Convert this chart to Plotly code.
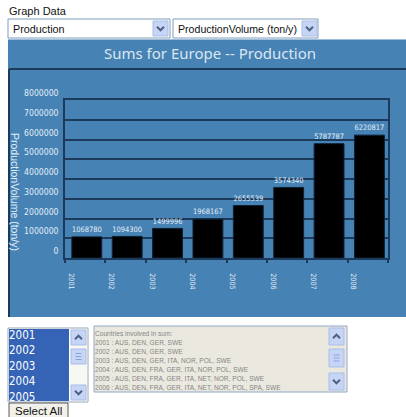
import plotly.graph_objects as go

W, H = 406, 417

# ---------------- data ----------------
years = ["2001", "2002", "2003", "2004", "2005", "2006", "2007", "2008"]
production = [1068780, 1094300, 1499996, 1968167, 2655539, 3574340, 5787787, 6220817]
y_tick_values = [0, 1000000, 2000000, 3000000, 4000000, 5000000, 6000000, 7000000, 8000000]
selected_years = ["2001", "2002", "2003", "2004", "2005"]
country_lines = [
    "Countries involved in sum:",
    "2001 : AUS, DEN, GER, SWE",
    "2002 : AUS, DEN, GER, SWE",
    "2003 : AUS, DEN, GER, ITA, NOR, POL, SWE",
    "2004 : AUS, DEN, FRA, GER, ITA, NOR, POL, SWE",
    "2005 : AUS, DEN, FRA, GER, ITA, NET, NOR, POL, SWE",
    "2006 : AUS, DEN, FRA, GER, ITA, NET, NOR, POL, SPA, SWE",
]
chart_title = "Sums for Europe -- Production"
y_title = "ProductionVolume (ton/y)"
dropdown_texts = ["Production", "ProductionVolume (ton/y)"]

# ---------------- styles ----------------
COND = "DejaVu Sans Condensed, Liberation Sans, sans-serif"
SANS = "Liberation Sans, Arial, sans-serif"
BLUE = "#4682b4"
DARK = "#1b3a5c"
LIGHT_TXT = "#e3edf6"


def px(x):
    return x / W


def py(y):
    return 1 - y / H


def rect(x0, y0, x1, y1, fill, line=None, lw=1, layer="above"):
    return dict(type="rect", xref="paper", yref="paper", x0=px(x0), x1=px(x1), y0=py(y1), y1=py(y0),
                fillcolor=fill, line=dict(color=line or fill, width=lw if line else 0), layer=layer)


def seg(x0, y0, x1, y1, color, lw=1, layer="above"):
    return dict(type="line", xref="paper", yref="paper", x0=px(x0), x1=px(x1), y0=py(y0), y1=py(y1),
                line=dict(color=color, width=lw), layer=layer)


def chevron(cx, cy, up, color="#4d6185"):
    d = -1 if up else 1
    pts = [(cx - 3.5, cy - 1.8 * d), (cx, cy + 1.8 * d), (cx + 3.5, cy - 1.8 * d)]
    path = "M " + " L ".join(f"{px(a)},{py(b)}" for a, b in pts)
    return dict(type="path", xref="paper", yref="paper", path=path, line=dict(color=color, width=2))


def button(x0, y0, x1, y1, kind):
    out = [rect(x0, y0, x1, y1, "#c6d5f6", "#a9bde6", 1)]
    cx, cy = (x0 + x1) / 2, (y0 + y1) / 2
    if kind == "up":
        out.append(chevron(cx, cy, True))
    elif kind == "down":
        out.append(chevron(cx, cy, False))
    else:
        for k in (-3, 0, 3):
            out.append(seg(cx - 3, cy + k, cx + 3, cy + k, "#8aa2d4", 1))
    return out


shapes = []
# main blue panel
shapes.append(rect(8, 39, 406, 317, BLUE, layer="below"))
shapes.append(seg(8, 39.5, 406, 39.5, "#9dbddb", 1))
shapes.append(seg(9, 69, 406, 69, DARK, 2))
shapes.append(seg(9, 69, 9, 317, DARK, 2))

# dropdowns
for (x0, x1, bx0) in [(8, 170, 153), (173, 318, 302)]:
    shapes.append(rect(x0, 19, x1, 38, "white", "#7f9db9", 1))
    shapes += button(bx0, 21, bx0 + 15, 36, "down")

# listbox
shapes.append(rect(8, 328, 88, 402, "white", "#9aa6b4", 1, layer="below"))
shapes.append(rect(9, 329, 69, 401, "#3563b5", layer="below"))
shapes.append(rect(70, 329, 87, 401, "#f7f7f3"))
shapes += button(71, 330, 86, 345, "up")
shapes += button(71, 349, 86, 364, "thumb")
shapes += button(71, 385, 86, 400, "down")

# select all button
shapes.append(rect(9, 403, 68, 418, "#f1f0ea", "#5a5a5a", 1))

# countries textbox
shapes.append(rect(94, 326, 347, 392, "#ebe9df", "#8fa8c8", 1, layer="below"))
shapes += button(329, 328, 344, 345, "up")
shapes += button(329, 349, 344, 367, "thumb")
shapes += button(329, 373, 344, 390, "down")

annotations = [
    dict(text="Graph Data", x=px(7), y=py(11), xanchor="left", yanchor="middle",
         font=dict(family=SANS, size=11, color="#111111")),
    dict(text=dropdown_texts[0], x=px(11), y=py(29), xanchor="left", yanchor="middle",
         font=dict(family=SANS, size=10.8, color="#111111")),
    dict(text=dropdown_texts[1], x=px(176), y=py(29), xanchor="left", yanchor="middle",
         font=dict(family=SANS, size=10.6, color="#111111")),
    dict(text=chart_title, x=px(210), y=py(53), xanchor="center", yanchor="middle",
         font=dict(family="Noto Sans, DejaVu Sans, sans-serif", size=15, color="#dbe7f2")),
    dict(text=y_title, x=px(15), y=py(192), xanchor="center", yanchor="middle", textangle=90,
         font=dict(family=SANS, size=10.5, color=LIGHT_TXT)),
    dict(text="Select All", x=px(38.5), y=py(410.5), xanchor="center", yanchor="middle",
         font=dict(family=SANS, size=11.5, color="#111111")),
]
for a in annotations:
    a.update(xref="paper", yref="paper", showarrow=False)

fig = go.Figure()
fig.add_trace(go.Bar(
    x=years, y=production,
    marker=dict(color="black", line=dict(color="#0f2236", width=1)),
    width=0.74, offset=-0.33,
    text=[str(v) for v in production], textposition="outside",
    textfont=dict(family=COND, size=8.6, color=LIGHT_TXT),
    cliponaxis=False, hoverinfo="skip", xaxis="x", yaxis="y",
))
fig.add_trace(go.Scatter(
    x=[0] * len(country_lines), y=list(range(len(country_lines))), mode="text",
    text=country_lines, textposition="middle right",
    textfont=dict(family=SANS, size=6.6, color="#858585"),
    cliponaxis=True, hoverinfo="skip", xaxis="x2", yaxis="y2",
))
fig.add_trace(go.Scatter(
    x=[0] * len(selected_years), y=list(range(len(selected_years))), mode="text",
    text=selected_years, textposition="middle right",
    textfont=dict(family=COND, size=11.5, color="white"),
    cliponaxis=True, hoverinfo="skip", xaxis="x3", yaxis="y3",
))

fig.update_layout(
    template="none",
    width=W, height=H, autosize=False, margin=dict(l=0, r=0, t=0, b=0, pad=0, autoexpand=False),
    paper_bgcolor="white", plot_bgcolor="rgba(0,0,0,0)", showlegend=False,
    shapes=shapes, annotations=annotations,
    xaxis=dict(domain=[px(65), px(388)], type="category", anchor="y", automargin=False,
               tickson="boundaries", ticks="outside", ticklen=3, tickwidth=1.5, tickcolor=DARK,
               tickangle=90, ticklabelshift=-14, ticklabelstandoff=12,
               tickfont=dict(family=COND, size=7.2, color=LIGHT_TXT),
               showline=True, linecolor=DARK, linewidth=1.5, mirror=True,
               showgrid=False, zeroline=False, fixedrange=True),
    yaxis=dict(domain=[py(258), py(100)], range=[0, 8000000], anchor="x", automargin=False,
               tickvals=y_tick_values, ticktext=[str(v) for v in y_tick_values],
               ticks="", ticklabelshift=-7, ticklabelstandoff=3,
               tickfont=dict(family=COND, size=8.6, color=LIGHT_TXT),
               showgrid=True, gridcolor=DARK, gridwidth=1.5,
               zeroline=False, showline=True, linecolor=DARK, linewidth=1.5, mirror=True,
               fixedrange=True),
    xaxis2=dict(domain=[px(95), px(328)], range=[0, 1], anchor="y2", visible=False,
                automargin=False, fixedrange=True),
    yaxis2=dict(domain=[py(391), py(327)], range=[6.3, -0.78], anchor="x2", visible=False,
                automargin=False, fixedrange=True),
    xaxis3=dict(domain=[px(9), px(69)], range=[0, 1], anchor="y3", visible=False,
                automargin=False, fixedrange=True),
    yaxis3=dict(domain=[py(401), py(329)], range=[4.19, -0.45], anchor="x3", visible=False,
                automargin=False, fixedrange=True),
)

fig.write_html(
    "out.html",
    config={"displayModeBar": False},
    post_script=(
        "document.documentElement.style.margin='0';document.body.style.margin='0';"
        "document.body.style.padding='0';"
        "document.documentElement.style.overflow='hidden';document.body.style.overflow='hidden';"
        "var gd=document.getElementById('{plot_id}');"
        "gd.style.position='fixed';gd.style.left='0px';gd.style.top='0px';"
    ),
)
